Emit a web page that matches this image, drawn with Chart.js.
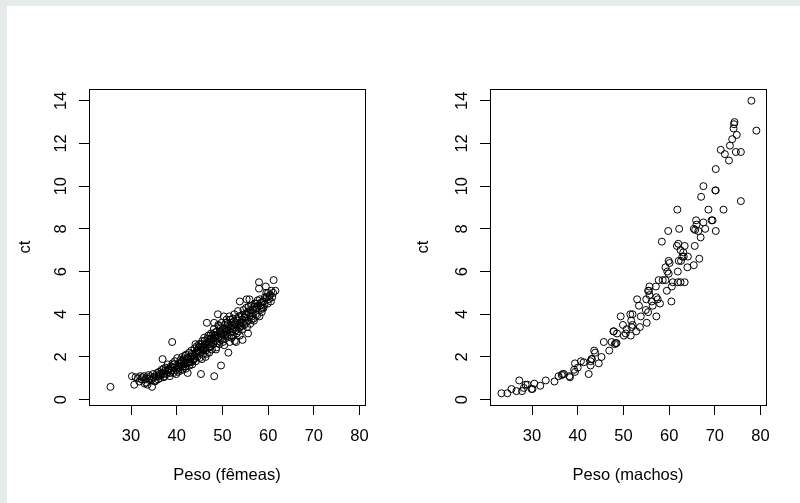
<!DOCTYPE html>
<html><head><meta charset="utf-8">
<script src="https://cdn.jsdelivr.net/npm/chart.js@4"></script>
<style>
html,body{margin:0;padding:0;background:#e4ebe8;width:800px;height:503px;overflow:hidden}
#panel{position:absolute;left:7px;top:6px;width:793px;height:497px;background:#fff}
canvas{position:absolute;top:0}
</style></head><body>
<div id="panel"></div>
<canvas id="c1" width="400" height="503" style="left:0px"></canvas>
<canvas id="c2" width="399" height="503" style="left:401px"></canvas>
<script>
const xTitleFemeas = "Peso (fêmeas)";
const xTitleMachos = "Peso (machos)";
const yTitle = "ct";
const xTicks = [30, 40, 50, 60, 70, 80];
const yTicks = [0, 2, 4, 6, 8, 10, 12, 14];

// [peso, ct] — fêmeas
const femeas = [
[25.5,0.6],
[30.2,1.1],[30.7,0.7],[31.0,1.05],[31.5,1.0],[32.0,1.1],[32.3,0.95],[32.8,1.1],[33.0,0.75],[33.3,0.8],[33.6,0.7],[33.8,1.15],[34.0,1.0],[34.3,0.9],[34.6,0.6],[34.8,1.2],[35.0,1.05],[35.2,0.85],[35.5,1.1],[35.7,1.25],[35.9,0.95],[36.1,1.3],[36.3,1.0],[36.5,1.15],[36.7,1.4],[36.9,1.9],[37.0,1.2],[37.2,1.05],[37.4,1.35],[37.6,1.5],[37.8,1.2],[38.0,1.65],[38.1,1.3],[38.3,1.45],[38.5,1.1],[38.7,1.55],[38.9,1.35],[39.0,2.7],[39.1,1.7],[39.3,1.25],[39.5,1.5],[39.6,1.8],[39.8,1.4],[40.0,1.6],[40.1,1.95],[40.3,1.3],[40.5,1.7],[40.6,1.5],[40.8,1.85],[41.0,1.6],[41.2,2.0],[41.3,1.4],[41.5,1.75],[41.7,1.9],[41.9,1.55],[42.0,2.1],[42.2,1.7],[42.4,1.25],[42.5,1.95],[42.7,2.2],[42.9,1.8],[43.0,2.0],[43.2,2.3],[43.4,1.65],[43.5,2.1],[43.7,1.9],[43.9,2.4],[44.0,2.15],[44.2,1.8],[44.4,2.5],[44.5,2.0],[44.7,2.3],[44.9,2.6],[45.0,1.95],[45.1,2.2],[45.3,1.2],[45.4,2.45],[45.6,2.75],[45.7,2.1],[45.9,2.3],[46.0,2.9],[46.2,2.55],[46.3,2.0],[46.5,2.65],[46.6,3.6],[46.8,2.4],[46.9,3.0],[47.1,2.2],[47.2,2.8],[47.4,2.5],[47.5,3.1],[47.7,2.35],[47.8,2.9],[48.0,2.6],[48.1,3.3],[48.2,1.1],[48.2,3.6],[48.4,2.75],[48.5,3.0],[48.7,2.45],[48.8,3.2],[49.0,4.0],[49.0,2.85],[49.2,3.45],[49.3,2.6],[49.5,3.1],[49.7,1.6],[49.7,2.9],[49.8,3.6],[50.0,3.3],[50.1,2.7],[50.3,3.9],[50.3,3.0],[50.5,3.5],[50.6,2.85],[50.8,3.2],[50.9,3.75],[51.1,3.0],[51.3,2.2],[51.3,3.4],[51.5,3.9],[51.6,2.7],[51.8,3.15],[51.9,3.6],[52.1,3.0],[52.3,3.8],[52.4,3.3],[52.6,4.0],[52.7,2.75],[52.9,3.5],[53.0,2.7],[53.1,3.1],[53.3,3.7],[53.4,4.15],[53.6,3.35],[53.8,4.6],[53.8,3.0],[54.0,3.6],[54.2,3.95],[54.4,2.8],[54.4,3.3],[54.6,4.2],[54.8,3.5],[55.0,3.85],[55.2,4.3],[55.3,4.7],[55.4,3.4],[55.6,3.1],[55.6,3.7],[55.8,4.05],[55.9,4.7],[56.1,3.55],[56.3,4.4],[56.5,3.9],[56.7,4.2],[56.9,3.7],[57.1,4.5],[57.3,4.0],[57.5,4.3],[57.7,4.65],[58.0,5.2],[58.0,5.5],[58.1,3.9],[58.3,4.4],[58.6,4.1],[58.8,4.6],[59.0,4.3],[59.3,4.8],[59.5,5.3],[59.7,4.8],[59.9,4.5],[60.2,4.7],[60.4,4.9],[60.6,4.6],[60.9,4.8],[61.1,5.0],[61.2,5.6],[61.6,5.1],
[37.3,1.1],[38.2,1.4],[39.2,1.5],[40.4,1.55],[41.1,1.8],[42.1,1.85],[43.1,1.75],[43.8,2.05],[44.6,2.15],[45.2,2.35],[45.8,2.5],[46.4,2.3],[47.0,2.6],[47.6,2.7],[48.3,2.9],[48.9,3.0],[49.4,3.2],[50.2,3.1],[50.7,3.3],[51.2,3.55],[51.7,3.35],[52.2,3.45],[52.8,3.6],[53.2,3.8],[53.7,3.55],[54.3,3.75],[54.9,4.0],[55.5,4.1],[56.0,3.9],[56.6,4.05],[57.2,4.25],[57.8,4.4],[58.4,4.55],[59.1,4.6],[36.0,1.1],[36.8,1.25],[41.6,1.65],[44.1,2.6],[46.1,2.75],[47.3,3.0],[49.1,3.5],[50.4,2.55],[52.0,2.9],[53.5,3.2],[55.1,3.6],[56.8,3.8],[58.7,4.25],[60.0,5.0],[33.5,1.0],[34.5,0.95],[39.9,1.2],[42.8,1.6],[45.5,1.9],[48.6,2.35],
[31.8,0.85],[32.5,1.05],[33.2,0.95],[34.2,1.1],[35.4,0.9],[36.2,1.2],[37.1,1.45],[37.9,1.35],[38.6,1.25],[39.4,1.65],[40.2,1.45],[40.9,1.7],[41.4,1.55],[41.8,2.05],[42.3,1.95],[42.6,1.75],[43.3,2.15],[43.6,1.85],[44.3,2.25],[44.8,2.45],[45.3,2.6],[45.7,2.35],[46.2,2.45],[46.7,2.85],[47.1,2.45],[47.5,2.85],[47.9,3.05],[48.4,3.15],[48.8,2.65],[49.2,2.95],[49.6,3.35],[49.9,2.8],[50.4,3.35],[50.8,3.6],[51.1,3.25],[51.4,2.95],[51.8,3.75],[52.2,3.2],[52.5,3.65],[52.9,3.25],[53.2,3.5],[53.6,3.9],[54.1,3.45],[54.5,3.6],[54.8,3.85],[55.2,4.0],[55.7,4.35],[56.2,4.2],[56.4,3.75],[56.9,4.35],[57.4,4.5],[57.6,3.95],[58.2,4.7],[58.5,4.3],[59.2,4.45],[59.6,5.0],[60.3,4.85],[60.7,5.1],[40.7,1.35],[42.0,1.45],[43.9,1.95],[46.6,2.15],[48.0,2.85],[50.6,3.05],[53.9,3.4]
];

// [peso, ct] — machos
const machos = [
[23.3,0.3],[24.6,0.3],[25.5,0.5],[26.6,0.4],[27.2,0.9],[27.8,0.4],[28.2,0.55],[28.6,0.7],[29.0,0.7],[29.9,0.5],[30.1,0.5],[30.5,0.75],[31.8,0.65],[33.0,0.9],[34.9,0.85],[35.8,1.1],[36.5,1.15],[36.7,1.2],[37.0,1.2],[38.2,1.1],[38.3,1.05],[39.2,1.4],[39.4,1.3],[39.4,1.7],[40.0,1.5],[40.7,1.8],[41.3,1.75],[42.4,1.2],[42.8,1.6],[42.8,1.8],[43.0,1.9],[43.1,1.9],[43.6,2.3],[43.8,2.2],[44.6,1.7],[45.2,2.0],[45.7,2.7],[46.9,2.3],[47.4,2.7],[47.8,3.2],[47.9,3.2],[48.1,2.6],[48.3,2.65],[48.5,2.65],[48.6,3.1],[49.4,3.9],[49.9,3.5],[50.1,3.0],[50.5,3.1],[50.7,3.3],[51.5,4.0],[51.6,3.0],[51.7,3.7],[51.8,3.4],[52.0,3.5],[52.0,4.0],[52.8,3.2],[53.0,4.7],[53.4,4.4],[53.6,3.4],[53.8,3.9],[54.9,4.2],[55.0,4.7],[55.1,3.6],[55.4,4.1],[55.4,5.1],[55.6,5.1],[55.7,4.9],[55.7,5.3],[56.2,4.6],[56.4,4.4],[57.1,5.3],[57.2,4.8],[57.2,3.9],[57.5,4.7],[57.7,5.6],[58.0,4.5],[58.4,7.4],[58.6,5.6],[59.2,5.6],[59.2,6.2],[59.5,5.1],[59.6,6.0],[59.8,7.9],[59.9,6.5],[59.9,5.9],[60.1,6.4],[60.5,4.6],[60.6,5.3],[60.8,5.5],[61.7,7.2],[61.8,8.9],[61.9,5.5],[61.9,6.0],[62.0,7.3],[62.1,6.5],[62.2,8.0],[62.5,7.0],[62.5,5.5],[62.6,6.5],[62.9,6.7],[63.1,6.9],[63.2,6.7],[63.4,7.2],[63.4,5.5],[64.0,6.2],[64.1,6.7],[65.4,6.3],[65.4,8.0],[65.6,7.2],[65.7,7.95],[65.9,8.4],[66.0,8.2],[66.4,7.9],[66.6,6.6],[66.9,7.6],[67.0,9.5],[67.5,10.0],[67.5,8.3],[67.9,8.0],[68.6,8.9],[69.3,8.4],[69.5,8.4],[70.1,9.8],[70.2,9.8],[70.2,10.8],[70.2,7.9],[71.3,11.7],[71.9,8.9],[72.2,11.5],[73.1,11.2],[73.3,11.9],[73.8,12.2],[74.1,12.7],[74.2,12.9],[74.3,13.0],[74.6,11.6],[74.8,12.4],[75.7,11.6],[75.7,9.3],[78.0,14.0],[79.1,12.6]
];

const FONT = "'Liberation Sans', Arial, Helvetica, sans-serif";
const FS = 16.5;

const framePlugin = {
  id: 'frame',
  afterDraw(chart) {
    const {ctx, chartArea: a} = chart;
    ctx.save();
    ctx.strokeStyle = '#000';
    ctx.lineWidth = 1;
    ctx.strokeRect(Math.round(a.left) + 0.5, Math.round(a.top) + 0.5,
                   Math.round(a.right - a.left), Math.round(a.bottom - a.top));
    ctx.restore();
  }
};

function makeChart(id, pts, xTitle, padRight, titlePad) {
  return new Chart(document.getElementById(id), {
    type: 'scatter',
    data: {
      datasets: [{
        data: pts.map(p => ({x: p[0], y: p[1]})),
        pointStyle: 'circle',
        pointRadius: 3.5,
        pointHoverRadius: 3.5,
        borderWidth: 1,
        borderColor: '#000',
        backgroundColor: 'rgba(0,0,0,0)',
        showLine: false
      }]
    },
    options: {
      responsive: false,
      animation: false,
      devicePixelRatio: 1,
      events: [],
      layout: {padding: {left: 0, top: 89, right: padRight, bottom: 0}},
      plugins: {legend: {display: false}, tooltip: {enabled: false}},
      scales: {
        x: {
          type: 'linear', position: 'bottom', min: 20.8, max: 81.2,
          afterBuildTicks: s => { s.ticks = xTicks.map(v => ({value: v})); },
          afterFit: s => { s.height = 98; },
          grid: {display: true, drawOnChartArea: false, drawTicks: true, tickLength: 10, color: '#000', lineWidth: 1},
          border: {display: false},
          ticks: {color: '#000', font: {family: FONT, size: FS}, padding: 12, minRotation: 0, maxRotation: 0, autoSkip: false},
          title: {display: true, text: xTitle, color: '#000', font: {family: FONT, size: FS}, padding: {top: 0, bottom: 17.8}}
        },
        y: {
          type: 'linear', position: 'left', min: -0.25, max: 14.55,
          afterBuildTicks: s => { s.ticks = yTicks.map(v => ({value: v})); },
          afterFit: s => { s.width = 89; },
          grid: {display: true, drawOnChartArea: false, drawTicks: true, tickLength: 10, color: '#000', lineWidth: 1},
          border: {display: false},
          ticks: {color: '#000', font: {family: FONT, size: FS}, padding: 8.2, minRotation: 90, maxRotation: 90, crossAlign: 'center', autoSkip: false},
          title: {display: true, text: yTitle, color: '#000', font: {family: FONT, size: FS}, padding: {top: titlePad, bottom: 0}}
        }
      }
    },
    plugins: [framePlugin]
  });
}

makeChart('c1', femeas, xTitleFemeas, 35, 16);
makeChart('c2', machos, xTitleMachos, 34, 13);
</script>
</body></html>
